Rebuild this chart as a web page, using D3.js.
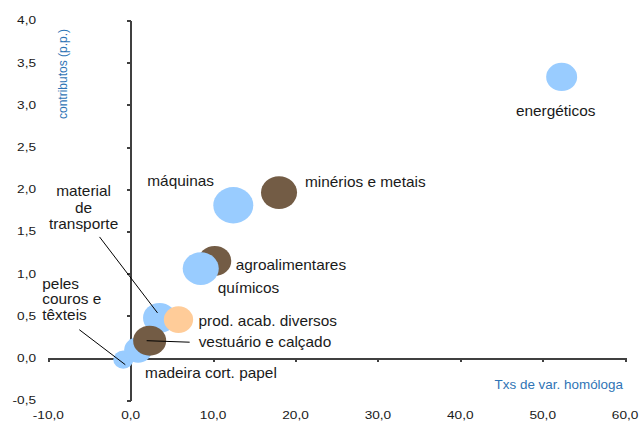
<!DOCTYPE html>
<html lang="pt">
<head>
<meta charset="UTF-8" />
<style>
  body { margin: 0; background: #fff; }
  svg { font-family: "Liberation Sans", Arial, sans-serif; }
  .axis path, .axis line { stroke: #404040; stroke-width: 2; fill: none; shape-rendering: crispEdges; }
  .axis text { display: none; }
</style>
<script src="https://cdn.jsdelivr.net/npm/d3@7"></script>
</head>
<body>
<script>
// data
var produtos = ["agroalimentares", "químicos", "material de transporte", "prod. acab. diversos",
  "peles couros e têxteis", "madeira cort. papel", "vestuário e calçado", "máquinas",
  "minérios e metais", "energéticos"];
var txVar = [10.2, 8.5, 3.5, 5.8, -0.9, 0.9, 2.3, 12.45, 18.0, 52.3];
var contributos = [1.15, 1.06, 0.475, 0.455, -0.02, 0.095, 0.205, 1.81, 1.96, 3.33];
var peso = [10.9, 13, 10.9, 8.6, 4, 7.8, 10.9, 16, 13, 9.6];
var grupo = ["b", "a", "a", "c", "a", "a", "b", "a", "b", "a"];
var xTicks = [-10, 0, 10, 20, 30, 40, 50, 60];
var yTicks = [-0.5, 0, 0.5, 1, 1.5, 2, 2.5, 3, 3.5, 4];

// label layout (pixel offsets from bubble centre)
var labelLayout = {
  "agroalimentares": { dx: 21, dy: 9, anchor: "start" },
  "químicos": { dx: 17, dy: 24, anchor: "start" },
  "material de transporte": { dx: -76, dy: -122, anchor: "middle", lines: ["material", "de", "transporte"], lh: 16.7,
    leader: [[-60, -81], [-2, -5]] },
  "prod. acab. diversos": { dx: 20, dy: 6.5, anchor: "start" },
  "peles couros e têxteis": { dx: -81, dy: -71, anchor: "start", lines: ["peles", "couros e", "têxteis"], lh: 15.5,
    leader: [[-44, -30], [2, 5]] },
  "madeira cort. papel": { dx: 7, dy: 28, anchor: "start" },
  "vestuário e calçado": { dx: 49, dy: 6, anchor: "start", leader: [[-3, 0], [40, 1.5]] },
  "máquinas": { dx: -86, dy: -19, anchor: "start" },
  "minérios e metais": { dx: 26, dy: -6, anchor: "start" },
  "energéticos": { dx: -6, dy: 39, anchor: "middle" }
};

var width = 641, height = 421;
var colors = { a: "#99ccff", b: "#735c45", c: "#ffcc99" };

var svg = d3.select("body").append("svg")
  .attr("width", width).attr("height", height);

var x = d3.scaleLinear().domain([-10, 60]).range([48.3, 625.1]);
var y = d3.scaleLinear().domain([-0.5, 4]).range([400.2, 20.4]);
var r = d3.scaleSqrt().domain([0, 16]).range([0, 20]);
var fmt = d3.formatLocale({ decimal: ",", thousands: ".", grouping: [3], currency: ["", "€"], minus: "-" }).format(".1f");

// horizontally stretched text, like the original picture
function stretchText(g, tx, ty, str, size, sx, anchor, color) {
  return g.append("text")
    .attr("transform", "translate(" + tx + "," + ty + ") scale(" + sx + ",1)")
    .attr("text-anchor", anchor)
    .style("font-size", size + "px")
    .style("fill", color || "#1a1a1a")
    .text(str);
}

// axes
svg.append("g").attr("class", "axis")
  .attr("transform", "translate(0," + y(0) + ")")
  .call(d3.axisBottom(x).tickValues(xTicks).tickSize(4).tickSizeOuter(0));
svg.append("g").attr("class", "axis")
  .attr("transform", "translate(" + x(0) + ",0)")
  .call(d3.axisLeft(y).tickValues(yTicks).tickSize(4).tickSizeOuter(0));

xTicks.forEach(function (t) {
  stretchText(svg, x(t), 419, fmt(t), 11, 1.24, "middle");
});
yTicks.forEach(function (t) {
  stretchText(svg, 36, y(t) + 4, fmt(t), 11, 1.24, "end");
});

// axis titles
svg.append("text")
  .attr("transform", "translate(67,74) rotate(-90)")
  .attr("text-anchor", "middle")
  .style("font-size", "12px")
  .style("fill", "#2f74b5")
  .text("contributos (p.p.)");
stretchText(svg, 623, 389, "Txs de var.  homóloga", 12, 1.12, "end", "#2f74b5");

// bubbles
var data = produtos.map(function (p, i) {
  return { nome: p, x: txVar[i], y: contributos[i], s: peso[i], g: grupo[i] };
});

svg.append("g").selectAll("ellipse")
  .data(data)
  .enter()
  .append("ellipse")
  .attr("cx", function (d) { return x(d.x); })
  .attr("cy", function (d) { return y(d.y); })
  .attr("rx", function (d) { return r(d.s); })
  .attr("ry", function (d) { return r(d.s) / 1.1; })
  .style("fill", function (d) { return colors[d.g]; });

// labels and leader lines
var lab = svg.append("g");
data.forEach(function (d) {
  var L = labelLayout[d.nome];
  var cx = x(d.x), cy = y(d.y);
  if (L.leader) {
    lab.append("line")
      .attr("x1", cx + L.leader[0][0]).attr("y1", cy + L.leader[0][1])
      .attr("x2", cx + L.leader[1][0]).attr("y2", cy + L.leader[1][1])
      .style("stroke", "#000").style("stroke-width", 1);
  }
  var lines = L.lines || [d.nome];
  lines.forEach(function (t, k) {
    stretchText(lab, cx + L.dx, cy + L.dy + k * (L.lh || 0), t, 14, 1.1, L.anchor);
  });
});
</script>
</body>
</html>
